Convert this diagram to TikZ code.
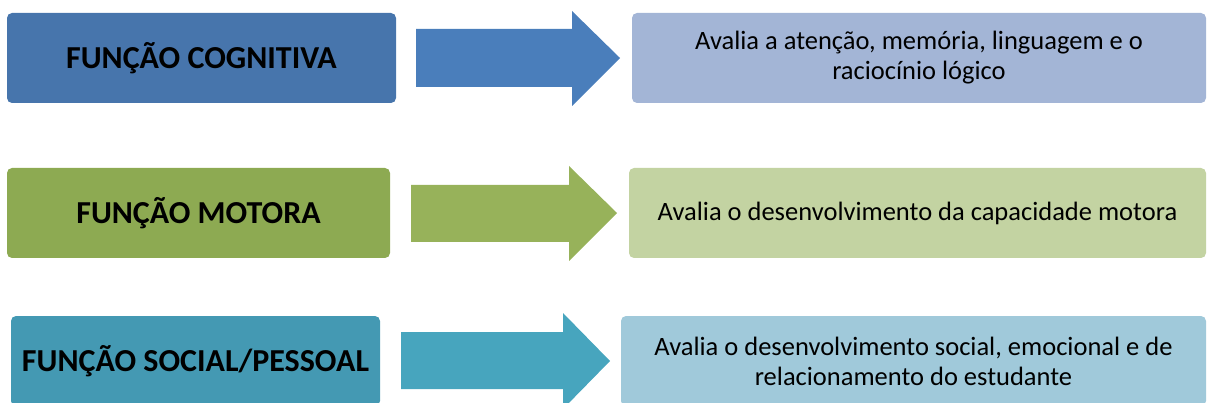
\documentclass[tikz,border=0pt]{standalone}
\usepackage{fontspec}
\setmainfont{Carlito}

\definecolor{cogdark}{HTML}{4775AC}
\definecolor{cogarrow}{HTML}{4A7EBB}
\definecolor{coglight}{HTML}{A3B5D6}
\definecolor{motdark}{HTML}{8DAA52}
\definecolor{motarrow}{HTML}{97B25A}
\definecolor{motlight}{HTML}{C3D3A2}
\definecolor{socdark}{HTML}{4499B3}
\definecolor{socarrow}{HTML}{47A5BE}
\definecolor{soclight}{HTML}{A0C9DA}

\tikzset{
  funcbox/.style={rounded corners=5pt, minimum height=90pt, inner sep=0pt,
    font=\fontsize{32}{36}\selectfont\bfseries},
  descbox/.style={rounded corners=5pt, minimum height=90pt, inner sep=0pt,
    font=\fontsize{26.5}{30}\selectfont, align=center}
}

\begin{document}
\begin{tikzpicture}[x=1pt,y=-1pt]
        \useasboundingbox (0,0) rectangle (1207,403);
        \clip (0,0) rectangle (1207,403);
        % linha 1: funcao cognitiva
        \node[funcbox, fill=cogdark, minimum width=389pt] (cog) at (201.5,58) {FUNÇÃO COGNITIVA};
        \fill[cogarrow] (416,29) -- (572,29) -- (572,11) -- (620,58) -- (572,106) -- (572,87) -- (416,87) -- cycle; % seta
        \node[descbox, fill=coglight, minimum width=574pt] (cogdesc) at (919,58) {Avalia a atenção, memória, linguagem e o\\raciocínio lógico};
        % linha 2: funcao motora
        \node[funcbox, fill=motdark, minimum width=383pt] (mot) at (198.5,213) {FUNÇÃO MOTORA};
        \fill[motarrow] (411,185) -- (569,185) -- (569,166) -- (617,213) -- (569,261) -- (569,242) -- (411,242) -- cycle; % seta
        \node[descbox, fill=motlight, minimum width=577pt] (motdesc) at (917.5,213) {Avalia o desenvolvimento da capacidade motora};
        % linha 3: funcao social/pessoal
        \node[funcbox, fill=socdark, minimum width=369pt] (soc) at (195.5,361) {FUNÇÃO SOCIAL/PESSOAL};
        \fill[socarrow] (401,332) -- (563,332) -- (563,313) -- (610,361) -- (563,409) -- (563,389) -- (401,389) -- cycle; % seta
        \node[descbox, fill=soclight, minimum width=585pt] (socdesc) at (913.5,361) {Avalia o desenvolvimento social, emocional e de\\relacionamento do estudante};
    \end{tikzpicture}
\end{document}
